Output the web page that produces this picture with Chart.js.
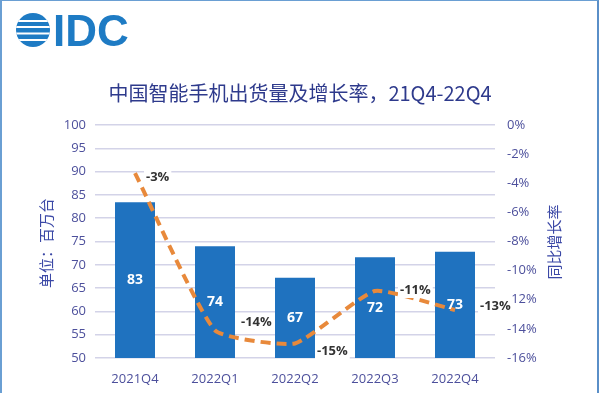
<!DOCTYPE html>
<html>
<head>
<meta charset="utf-8">
<script src="https://cdn.jsdelivr.net/npm/chart.js@4/dist/chart.umd.min.js"></script>
<style>
  html, body { margin: 0; padding: 0; background: #ffffff; }
  #wrap { position: relative; width: 600px; height: 393px; overflow: hidden; }
  #frame { position: absolute; left: 0; top: 0; width: 595px; height: 400px;
           border-left: 2px solid #6a9fd3; border-top: 1px solid #6a9fd3; border-right: 2px solid #5a8fc8;
           pointer-events: none; }
</style>
</head>
<body>
<div id="wrap">
  <canvas id="c" width="600" height="393"></canvas>
  <div id="frame"></div>
</div>
<script>
// ---- data ----
const categories = ['2021Q4', '2022Q1', '2022Q2', '2022Q3', '2022Q4'];
const shipments = [83.4, 74.0, 67.2, 71.6, 72.8];      // millions of units
const growth = [-3.3, -14.1, -15.0, -11.4, -12.7];     // YoY growth, %
const leftTicks = [50, 100, 5];     // min, max, step
const rightTicks = [-16, 0, 2];     // min, max, step

const titleText = '中国智能手机出货量及增长率，21Q4-22Q4';
const leftAxisTitle = '单位：百万台';
const rightAxisTitle = '同比增长率';

// label placement style (pixel offsets from each point, not data)
const growthLabelOffset = [[11, 4], [26, -8], [22, 8], [25, -1], [25, -4]];

const BAR = '#1f72bf';
const LINE = '#e8893b';
const TICK = '#4d509c';
const GRID = '#d3d3e8';

const decorPlugin = {
  id: 'decor',
  beforeDraw(chart) {
    const ctx = chart.ctx;
    ctx.save();
    ctx.fillStyle = '#ffffff';
    ctx.fillRect(0, 0, chart.width, chart.height);
    ctx.restore();
  },
  afterDatasetsDraw(chart) {
    const ctx = chart.ctx;
    const yScale = chart.scales.y;
    const xScale = chart.scales.x;
    ctx.save();
    // bar value labels
    ctx.font = 'bold 14px "Open Sans", "DejaVu Sans", sans-serif';
    ctx.fillStyle = '#ffffff';
    ctx.textAlign = 'center';
    ctx.textBaseline = 'middle';
    shipments.forEach((v, i) => {
      const top = yScale.getPixelForValue(v);
      const mid = (top + yScale.bottom) / 2;
      ctx.fillText(String(Math.round(v)), xScale.getPixelForValue(i), mid);
    });
    // growth labels
    const lineMeta = chart.getDatasetMeta(0);
    ctx.font = 'bold 13px "Open Sans", "DejaVu Sans", sans-serif';
    ctx.textAlign = 'left';
    lineMeta.data.forEach((pt, i) => {
      const t = Math.round(growth[i]) + '%';
      const x = pt.x + growthLabelOffset[i][0];
      const y = pt.y + growthLabelOffset[i][1];
      const w = ctx.measureText(t).width;
      ctx.fillStyle = '#ffffff';
      ctx.fillRect(x - 2, y - 8, w + 4, 16);
      ctx.fillStyle = '#333333';
      ctx.fillText(t, x, y);
    });
    ctx.restore();
  },
  afterDraw(chart) {
    const ctx = chart.ctx;
    ctx.save();
    // title
    ctx.font = '20px "Noto Sans CJK SC", sans-serif';
    ctx.fillStyle = '#2e3a8c';
    ctx.textAlign = 'center';
    ctx.textBaseline = 'middle';
    ctx.fillText(titleText, 300, 93);

    // axis titles (both read bottom-to-top)
    ctx.font = '15px "Noto Sans CJK SC", sans-serif';
    ctx.fillStyle = '#3b48a6';
    ctx.save();
    ctx.translate(46, 243);
    ctx.rotate(-Math.PI / 2);
    ctx.fillText(leftAxisTitle, 0, 0);
    ctx.restore();
    ctx.save();
    ctx.translate(554, 242);
    ctx.rotate(-Math.PI / 2);
    ctx.fillText(rightAxisTitle, 0, 0);
    ctx.restore();

    // IDC logo
    const cx = 33, cy = 30, r = 17;
    ctx.save();
    ctx.beginPath();
    ctx.arc(cx, cy, r, 0, Math.PI * 2);
    ctx.clip();
    ctx.fillStyle = '#1e7bc4';
    ctx.fillRect(cx - r, cy - r, 2 * r, 2 * r);
    ctx.fillStyle = '#ffffff';
    [-10, -4, 2.5, 9].forEach(dy => ctx.fillRect(cx - r, cy + dy, 2 * r, 2));
    ctx.restore();
    ctx.font = 'bold 44px "Liberation Sans", Arial, sans-serif';
    ctx.fillStyle = '#1e7bc4';
    ctx.textAlign = 'left';
    ctx.textBaseline = 'alphabetic';
    ctx.fillText('IDC', 53, 46);
    ctx.restore();
  }
};

new Chart(document.getElementById('c'), {
  data: {
    labels: categories,
    datasets: [
      {
        type: 'line',
        label: '同比增长率',
        data: growth,
        yAxisID: 'y2',
        borderColor: LINE,
        borderWidth: 4,
        borderDash: [10, 6],
        pointRadius: 0,
        tension: 0.15,
        fill: false,
        order: 0
      },
      {
        type: 'bar',
        label: '出货量',
        data: shipments,
        yAxisID: 'y',
        backgroundColor: BAR,
        barPercentage: 0.5,
        categoryPercentage: 1.0,
        order: 1
      }
    ]
  },
  options: {
    responsive: false,
    animation: false,
    devicePixelRatio: 1,
    layout: { padding: { top: 125, left: 0, right: 0, bottom: 0 } },
    plugins: { legend: { display: false }, tooltip: { enabled: false }, title: { display: false } },
    scales: {
      x: {
        grid: { display: false, drawTicks: false },
        border: { display: false },
        ticks: { color: TICK, padding: 13, font: { family: '"Open Sans", sans-serif', size: 13 } },
        afterFit(s) { s.height = 35; }
      },
      y: {
        position: 'left',
        min: leftTicks[0], max: leftTicks[1],
        ticks: { stepSize: leftTicks[2], color: TICK, padding: 9, font: { family: '"Open Sans", sans-serif', size: 13 } },
        grid: { color: GRID, lineWidth: 1.5, drawTicks: false },
        border: { display: false },
        afterFit(s) { s.width = 95; }
      },
      y2: {
        position: 'right',
        min: rightTicks[0], max: rightTicks[1],
        ticks: { stepSize: rightTicks[2], color: TICK, padding: 12,
                 font: { family: '"Open Sans", sans-serif', size: 13 },
                 callback: v => v + '%' },
        grid: { display: false, drawTicks: false },
        border: { display: false },
        afterFit(s) { s.width = 105; }
      }
    }
  },
  plugins: [decorPlugin]
});
</script>
</body>
</html>
